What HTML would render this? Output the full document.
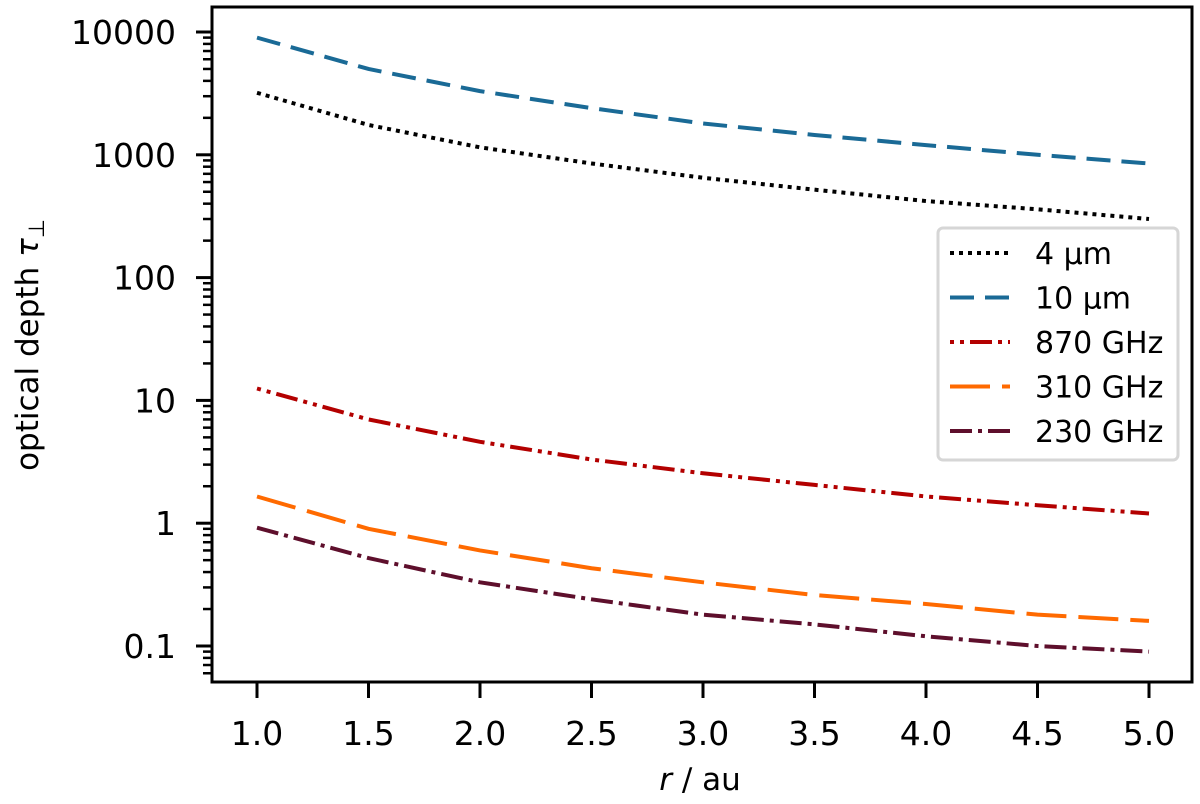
<!DOCTYPE html>
<html><head><meta charset="utf-8"><style>
body{margin:0;background:#fff}
svg{display:block;font-family:"DejaVu Sans","Liberation Sans",sans-serif}
</style></head><body>
<svg id="chart" width="1200" height="804" viewBox="0 0 1200 804"></svg>
<script>
const radii=[1.0,1.5,2.0,2.5,3.0,3.5,4.0,4.5,5.0];
const tau4um=[3200,1750,1150,850,650,520,420,360,300];
const tau10um=[9000,5000,3300,2400,1800,1450,1200,1000,850];
const tau870=[12.5,7,4.6,3.3,2.55,2.05,1.65,1.4,1.2];
const tau310=[1.65,0.9,0.6,0.43,0.33,0.26,0.22,0.18,0.16];
const tau230=[0.92,0.52,0.33,0.24,0.18,0.15,0.12,0.10,0.09];
const xTicks=[1.0,1.5,2.0,2.5,3.0,3.5,4.0,4.5,5.0];
const yTicks=[0.1,1,10,100,1000,10000];
const yTickLabels=["0.1","1","10","100","1000","10000"];
const seriesNames=["4 μm","10 μm","870 GHz","310 GHz","230 GHz"];

const NS="http://www.w3.org/2000/svg";
const svg=document.getElementById('chart');
const L=212,R=1192,T=7,B=682;
const xs=v=>257+(v-1)*223;
const ys=v=>646-(Math.log10(v)+1)*122.8;
function el(t,a,p){const e=document.createElementNS(NS,t);for(const k in a)e.setAttribute(k,a[k]);(p||svg).appendChild(e);return e;}

const series=[
 {d:tau4um,c:"#000000",dash:"4 5",name:"series-4um"},
 {d:tau10um,c:"#1a6a96",dash:"24 11",name:"series-10um"},
 {d:tau870,c:"#b30000",dash:"4 6 4 6 22 6",name:"series-870ghz"},
 {d:tau310,c:"#ff6a00",dash:"40 12",name:"series-310ghz"},
 {d:tau230,c:"#5e0f2c",dash:"22 6 4 6",name:"series-230ghz"}
];
series.forEach(s=>{
 const p=el('polyline',{points:radii.map((r,i)=>xs(r)+','+ys(s.d[i])).join(' '),fill:'none',stroke:s.c,'stroke-width':4,'stroke-dasharray':s.dash});
 
 
});

const fr=el('rect',{x:L,y:T,width:R-L,height:B-T,fill:'none',stroke:'#000','stroke-width':3});



xTicks.forEach(v=>{
 el('line',{x1:xs(v),x2:xs(v),y1:B,y2:B+16,stroke:'#000','stroke-width':3});
 const t=el('text',{x:xs(v),y:B+63,'text-anchor':'middle','font-size':33});
 t.textContent=v.toFixed(1);
 
 
});
yTicks.forEach((v,i)=>{
 el('line',{x1:L-16,x2:L,y1:ys(v),y2:ys(v),stroke:'#000','stroke-width':3});
 const t=el('text',{x:L-36,y:ys(v)+12,'text-anchor':'end','font-size':33});
 t.textContent=yTickLabels[i];
 
 
});
for(let e=-2;e<=4;e++)for(let m=2;m<=9;m++){
 const v=m*Math.pow(10,e),y=ys(v);
 if(y<T||y>B)continue;
 el('line',{x1:L-9,x2:L,y1:y,y2:y,stroke:'#000','stroke-width':2.5});
}
const xl=el('text',{x:700,y:790,'text-anchor':'middle','font-size':31});
xl.innerHTML='<tspan font-style="italic">r</tspan> / au';


const yl=el('text',{x:0,y:0,'text-anchor':'middle','font-size':31,transform:'translate(38,345) rotate(-90)'});
yl.innerHTML='optical depth <tspan font-style="italic">τ</tspan><tspan font-size="22" dy="6">⊥</tspan>';



const lg=el('g',{});


el('rect',{x:938,y:228,width:240,height:232,rx:5,fill:'#fff',stroke:'#d6d6d6','stroke-width':3},lg);
series.forEach((s,i)=>{
 const y=253+i*44.5;
 const g=el('g',{},lg);
 
 
 el('line',{x1:950,x2:1010,y1:y,y2:y,stroke:s.c,'stroke-width':4,'stroke-dasharray':s.dash},g);
 const t=el('text',{x:1035,y:y+11,'font-size':30},g);
 t.textContent=seriesNames[i];
});
</script>
</body></html>
